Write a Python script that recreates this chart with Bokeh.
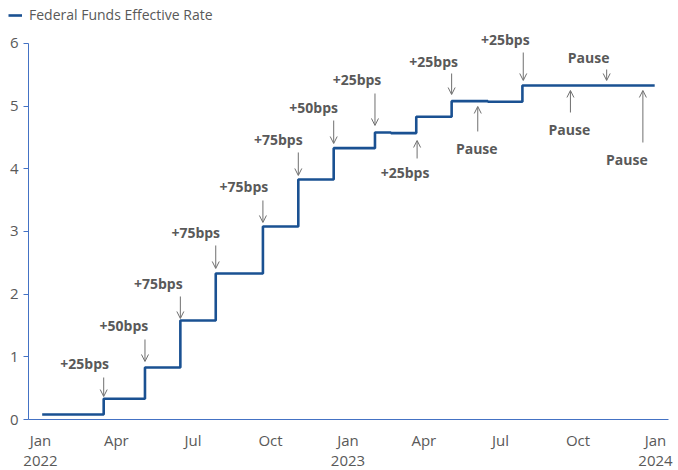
import pandas as pd
from bokeh.plotting import figure
from bokeh.models import (ColumnDataSource, FixedTicker, Arrow, OpenHead, LabelSet,
                          Legend, LegendItem)
from bokeh.core.properties import value
from bokeh.embed import file_html
from bokeh.resources import INLINE

# ---------------- data ----------------
step_dates = ["2022-01-03", "2022-03-17", "2022-05-05", "2022-06-16", "2022-07-28",
              "2022-09-22", "2022-11-03", "2022-12-15", "2023-02-02", "2023-02-21",
              "2023-03-23", "2023-05-04", "2023-06-16", "2023-07-27", "2023-12-31"]
step_rates = [0.08, 0.33, 0.83, 1.58, 2.33, 3.08, 3.83, 4.33, 4.58, 4.57,
              4.83, 5.08, 5.07, 5.33, 5.33]

ann_dates = ["2022-03-17", "2022-05-05", "2022-06-16", "2022-07-28", "2022-09-22",
             "2022-11-03", "2022-12-15", "2023-02-02", "2023-03-24", "2023-05-04",
             "2023-06-04", "2023-07-28", "2023-09-22", "2023-11-04", "2023-12-17"]
ann_labels = ["+25bps", "+50bps", "+75bps", "+75bps", "+75bps", "+75bps", "+50bps",
              "+25bps", "+25bps", "+25bps", "Pause", "+25bps", "Pause", "Pause", "Pause"]

tick_dates = ["2022-01-01", "2022-04-01", "2022-07-01", "2022-10-01", "2023-01-01",
              "2023-04-01", "2023-07-01", "2023-10-01", "2024-01-01"]
tick_labels = ["Jan\n2022", "Apr", "Jul", "Oct", "Jan\n2023", "Apr", "Jul", "Oct", "Jan\n2024"]
y_ticks = [0, 1, 2, 3, 4, 5, 6]
series_name = "Federal Funds Effective Rate"

# ---------------- annotation layout (styling) ----------------
arrow_tail = [0.670, 1.277, 1.963, 2.777, 3.495, 4.261, 4.771, 5.202, 4.165, 5.521,
              4.596, 5.856, 4.899, 5.585, 4.420]
arrow_tip = [0.367, 0.926, 1.612, 2.410, 3.144, 3.894, 4.404, 4.692, 4.452, 5.186,
             4.995, 5.410, 5.250, 5.410, 5.250]
text_y = [0.894, 1.500, 2.170, 2.984, 3.718, 4.468, 4.979, 5.425, 3.941, 5.713,
          4.324, 6.064, 4.628, 5.777, 4.149]
text_dx = [-19, -21, -22, -20, -19, -20, -20, -18, -12, -18, -1, -18, -1, -18, -16]

LINE = "#1A5192"
AXIS = "#4472C4"
GREY = "#595959"
ARROW = "#6F6F6F"
FONT = "Open Sans"

DAY = 86400000.0


def ts(s):
    return pd.Timestamp(s).value / 1e6  # ms


W, H = 678, 470
base = ts("2022-01-01")
PX_PER_DAY = 0.8425          # horizontal scale of the reference
PX_PER_UNIT = 62.667         # vertical scale of the reference
x_start = base - 40 / PX_PER_DAY * DAY
x_end = base + (W - 40) / PX_PER_DAY * DAY
y_axis_x = base - 12 / PX_PER_DAY * DAY
x_axis_end = base + 628 / PX_PER_DAY * DAY
y_top = 419 / PX_PER_UNIT
y_bottom = -(H - 419) / PX_PER_UNIT

p = figure(width=W, height=H, output_backend="svg", toolbar_location=None,
           x_range=(x_start, x_end), y_range=(y_bottom, y_top),
           min_border_left=0, min_border_right=0, min_border_top=0, min_border_bottom=0)
p.outline_line_color = None
p.grid.grid_line_color = None
p.background_fill_color = "white"
p.border_fill_color = "white"

src = ColumnDataSource(dict(x=[ts(d) for d in step_dates], y=step_rates))
r = p.step("x", "y", source=src, mode="after", line_color=LINE, line_width=2.6)

# x axis, drawn at y = 0 inside the frame
xa = p.xaxis[0]
xa.fixed_location = 0
xa.ticker = FixedTicker(ticks=[ts(d) for d in tick_dates])
xa.major_label_overrides = {ts(d): lab for d, lab in zip(tick_dates, tick_labels)}
xa.bounds = (y_axis_x, x_axis_end)
xa.major_tick_out = 0
xa.major_tick_in = 0
xa.minor_tick_out = 0
xa.minor_tick_in = 0
xa.axis_line_color = AXIS
xa.axis_line_width = 1
xa.major_label_text_font = FONT
xa.major_label_text_font_size = "15px"
xa.major_label_text_color = GREY
xa.major_label_text_line_height = 1.0
xa.major_label_standoff = 10

# y axis, drawn at a fixed position inside the frame
ya = p.yaxis[0]
ya.fixed_location = y_axis_x
ya.bounds = (0, 6)
ya.ticker = FixedTicker(ticks=y_ticks)
ya.major_tick_out = 5
ya.major_tick_in = 0
ya.minor_tick_out = 0
ya.minor_tick_in = 0
ya.axis_line_color = AXIS
ya.major_tick_line_color = AXIS
ya.major_label_text_font = FONT
ya.major_label_text_font_size = "15px"
ya.major_label_text_color = GREY
ya.major_label_standoff = 5

# annotation arrows and texts
ann_x = [ts(d) for d in ann_dates]
asrc = ColumnDataSource(dict(x=ann_x, y0=arrow_tail, y1=arrow_tip, ty=text_y,
                             dx=text_dx, label=ann_labels))
p.add_layout(Arrow(end=OpenHead(size=7, line_color=ARROW, line_width=1),
                   x_start="x", y_start="y0", x_end="x", y_end="y1", source=asrc,
                   line_color=ARROW, line_width=1))
p.add_layout(LabelSet(x="x", y="ty", text="label", x_offset="dx", source=asrc,
                      text_font=value(FONT), text_font_style="bold",
                      text_font_size="14px", text_color=GREY,
                      text_align="center", text_baseline="middle"))

# legend
legend = Legend(items=[LegendItem(label=series_name, renderers=[r])],
                location=(8, 446), padding=0, margin=0, spacing=0,
                border_line_alpha=0, background_fill_alpha=0,
                glyph_width=14, glyph_height=14, label_standoff=7,
                label_height=14,
                label_text_font=FONT, label_text_font_size="14px",
                label_text_color=GREY)
p.add_layout(legend)

open("out.html", "w").write(file_html(p, INLINE))
